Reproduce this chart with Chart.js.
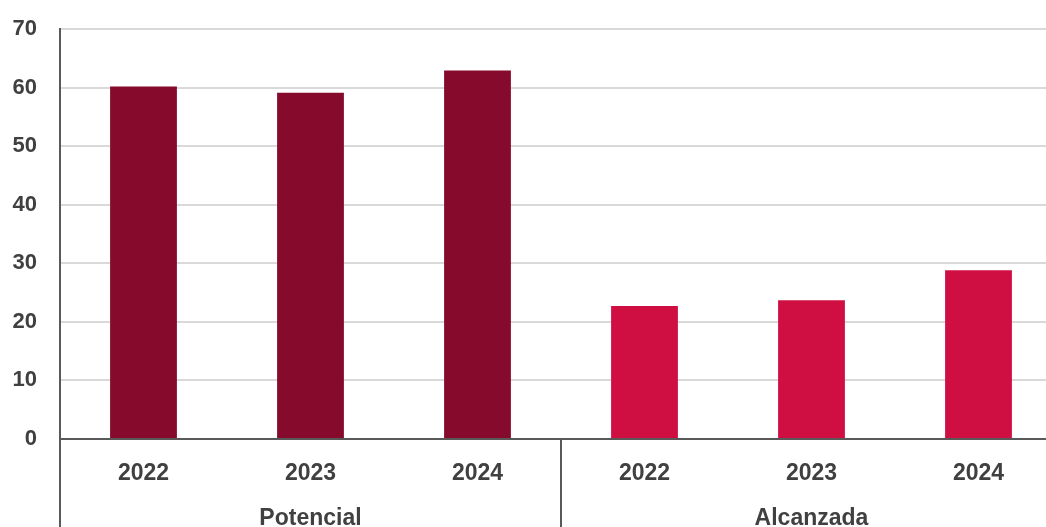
<!DOCTYPE html>
<html>
<head>
<meta charset="utf-8">
<script src="https://cdn.jsdelivr.net/npm/chart.js@4"></script>
<style>
  html, body { margin: 0; padding: 0; background: #fff; overflow: hidden; }
  #wrap { position: absolute; left: 0; top: 0; width: 1062px; height: 564px; }
</style>
</head>
<body>
<div id="wrap"><canvas id="chart"></canvas></div>
<script>
const years = ['2022', '2023', '2024'];
const groups = ['Potencial', 'Alcanzada'];
const potencial = [60.2, 59.1, 62.9];
const alcanzada = [22.7, 23.7, 28.8];
const yTicks = [0, 10, 20, 30, 40, 50, 60, 70];

const groupColors = ['#850a2b', '#cf0e42'];
const axisColor = '#595959';
const textColor = '#404040';
const fontFamily = '"Liberation Sans", Arial, sans-serif';
const yFont = { family: fontFamily, size: 22, weight: 'bold' };
const xFont = { family: fontFamily, size: 23, weight: 'bold' };

const labels = years.concat(years);
const values = potencial.concat(alcanzada);
const colors = labels.map((_, i) => groupColors[Math.floor(i / years.length)]);

// vertical separators under the axis: left edge and between the two groups
const groupLines = {
    id: 'groupLines',
    afterDraw(chart) {
        const { ctx, chartArea, scales } = chart;
        const x = scales.x;
        const xs = [chartArea.left];
        for (let g = 1; g < groups.length; g++) {
            const i = g * years.length;
            xs.push((x.getPixelForValue(i - 1) + x.getPixelForValue(i)) / 2);
        }
        ctx.save();
        ctx.strokeStyle = axisColor;
        ctx.lineWidth = 2;
        xs.forEach(px => {
            ctx.beginPath();
            ctx.moveTo(px, chartArea.bottom);
            ctx.lineTo(px, chart.height);
            ctx.stroke();
        });
        ctx.restore();
    }
};

new Chart(document.getElementById('chart'), {
    type: 'bar',
    data: {
        labels: labels,
        datasets: [{
            data: values,
            backgroundColor: colors,
            barPercentage: 0.4,
            categoryPercentage: 1.0
        }]
    },
    options: {
        responsive: true,
        maintainAspectRatio: false,
        animation: false,
        layout: { autoPadding: false, padding: { top: 29, left: 12, right: 0, bottom: 0 } },
        plugins: { legend: { display: false }, tooltip: { enabled: false } },
        scales: {
            x: {
                afterFit(scale) { scale.height = 56; },
                grid: { display: false, drawTicks: false },
                border: { display: true, color: axisColor, width: 2 },
                ticks: { color: textColor, font: xFont, padding: 21 }
            },
            x2: {
                type: 'category',
                labels: groups,
                position: 'bottom',
                offset: true,
                afterFit(scale) { scale.height = 69; },
                grid: { display: false, drawTicks: false },
                border: { display: false },
                ticks: { color: textColor, font: xFont, padding: 10 }
            },
            y: {
                min: 0,
                max: 70,
                afterBuildTicks(scale) {
                    scale.ticks = yTicks.map(v => ({ value: v }));
                },
                afterFit(scale) {
                    scale.width = 48;
                    scale.paddingTop = 0;
                    scale.paddingBottom = 0;
                },
                grid: { color: '#d9d9d9', lineWidth: 2, drawTicks: false },
                border: { display: true, color: axisColor, width: 2 },
                ticks: { color: textColor, font: yFont, padding: 23 }
            }
        }
    },
    plugins: [groupLines]
});
</script>
</body>
</html>
